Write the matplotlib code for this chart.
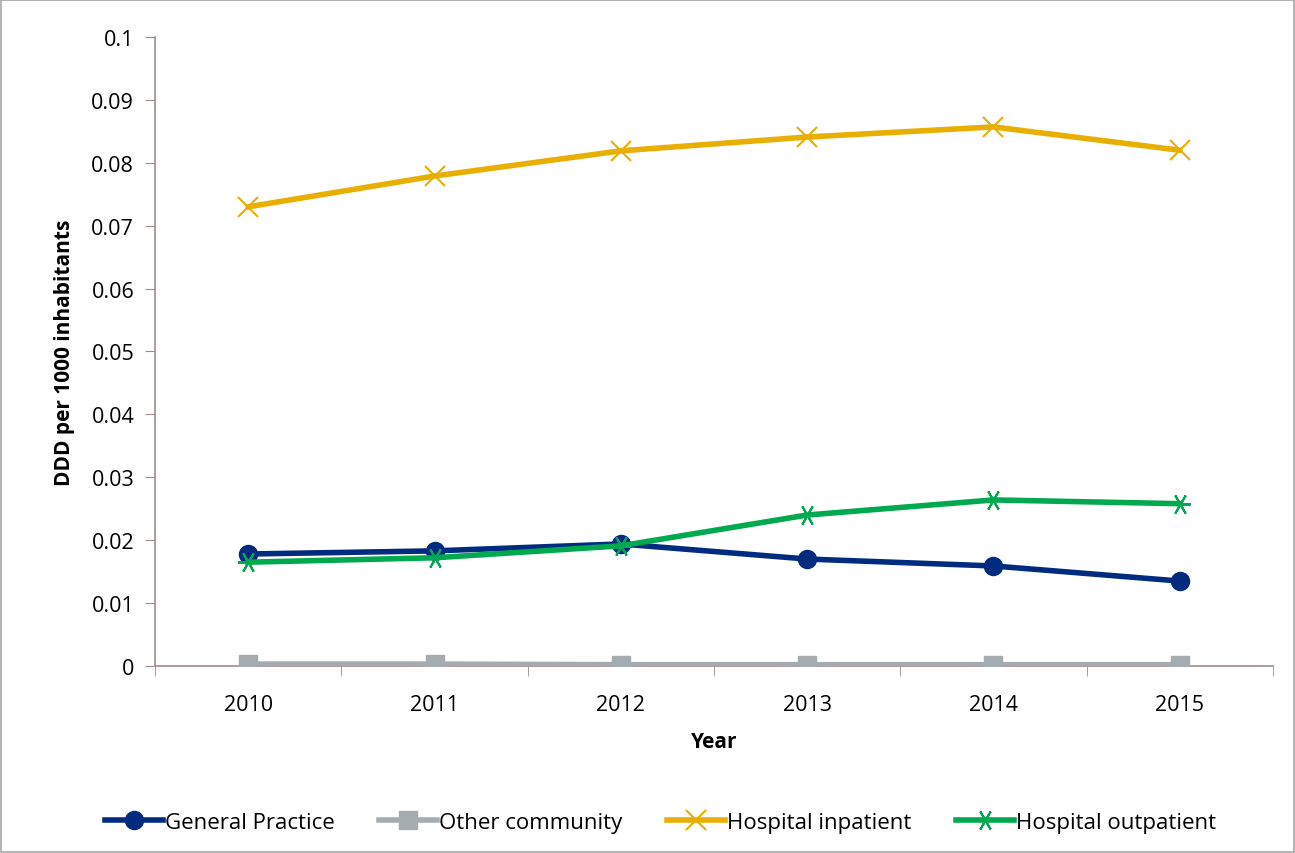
import matplotlib
matplotlib.use("Agg")
from matplotlib import pyplot as plt
from matplotlib.ticker import FixedLocator, NullFormatter

plt.rcParams['font.family'] = ['Open Sans', 'DejaVu Sans']

years = ['2010', '2011', '2012', '2013', '2014', '2015']
general_practice = [0.0178, 0.0183, 0.0194, 0.0170, 0.0159, 0.0135]
other_community = [0.0003, 0.0003, 0.0002, 0.0002, 0.0002, 0.0002]
hospital_inpatient = [0.0730, 0.0779, 0.0819, 0.0841, 0.0857, 0.0820]
hospital_outpatient = [0.0165, 0.0172, 0.0191, 0.0240, 0.0264, 0.0258]

spine_color = '#A08C8C'

fig = plt.figure(figsize=(12.95, 8.54), dpi=100)
fig.patches.append(plt.Rectangle((0.001, 0.001), 0.998, 0.998, transform=fig.transFigure,
								 fill=False, edgecolor='#A6A6A6', linewidth=1.2))
ax = fig.add_axes([0.1197, 0.219, 0.8633, 0.7365])

x = list(range(len(years)))
ax.plot(x, general_practice, color='#002B7F', linewidth=4, marker='o', markersize=13,
		label='General Practice', zorder=3)
ax.plot(x, other_community, color='#A5ACB0', linewidth=4, marker='s', markersize=13,
		label='Other community', zorder=3)
ax.plot(x, hospital_inpatient, color='#E8AF00', linewidth=4, marker='x', markersize=14,
		markeredgewidth=1.5, label='Hospital inpatient', zorder=3)
ax.plot(x, hospital_outpatient, color='#00A850', linewidth=4, marker=(6, 2, 90), markersize=15,
		markeredgewidth=1.5, label='Hospital outpatient', zorder=3)

ax.set_xlim(-0.5, len(years) - 0.5)
ax.set_ylim(0, 0.1)
ax.set_yticks([0, 0.01, 0.02, 0.03, 0.04, 0.05, 0.06, 0.07, 0.08, 0.09, 0.1])
ax.set_yticklabels(['0', '0.01', '0.02', '0.03', '0.04', '0.05', '0.06', '0.07', '0.08', '0.09', '0.1'])
ax.set_xticks(x)
ax.set_xticklabels(years)
ax.xaxis.set_minor_locator(FixedLocator([i - 0.5 for i in range(len(years) + 1)]))
ax.xaxis.set_minor_formatter(NullFormatter())
ax.tick_params(axis='x', which='major', length=0, pad=20, labelsize=15.5)
ax.tick_params(axis='x', which='minor', length=7, color=spine_color, direction='out')
ax.tick_params(axis='y', length=7, color=spine_color, direction='out', pad=8, labelsize=15.5)

for side in ['top', 'right']:
	ax.spines[side].set_visible(False)
for side in ['left', 'bottom']:
	ax.spines[side].set_color(spine_color)
	ax.spines[side].set_linewidth(1.2)

ax.set_xlabel('Year', fontsize=15, fontweight='bold', labelpad=12)
ax.set_ylabel('DDD per 1000 inhabitants', fontsize=15, fontweight='bold', labelpad=12)

fig.legend(loc='lower center', bbox_to_anchor=(0.51, 0.0), ncol=4, frameon=False,
		   fontsize=16, handlelength=2.6, handletextpad=0.1, columnspacing=2.0)

fig.savefig('out.png', dpi=100)
